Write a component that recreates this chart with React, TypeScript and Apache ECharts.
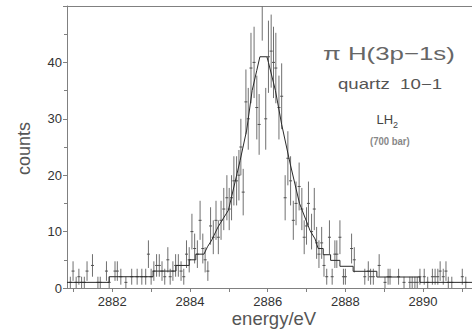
import React, { useEffect, useRef } from "react";
import * as echarts from "echarts";

// measured spectrum: bin energy (eV) and counts
const energies = [
  2880.92, 2880.99, 2881.07, 2881.14, 2881.21, 2881.28, 2881.35, 2881.42, 2881.49, 2881.56,
  2881.63, 2881.69, 2881.77, 2881.85, 2881.92, 2881.99, 2882.07, 2882.13, 2882.22, 2882.28,
  2882.35, 2882.43, 2882.5, 2882.57, 2882.64, 2882.7, 2882.76, 2882.86, 2882.93, 2883.0,
  2883.07, 2883.14, 2883.21, 2883.28, 2883.35, 2883.43, 2883.49, 2883.56, 2883.63, 2883.7,
  2883.77, 2883.84, 2883.91, 2883.98, 2884.05, 2884.12, 2884.19, 2884.26, 2884.33, 2884.39,
  2884.46, 2884.53, 2884.6, 2884.67, 2884.73, 2884.8, 2884.87, 2884.95, 2885.01, 2885.07,
  2885.13, 2885.2, 2885.26, 2885.31, 2885.37, 2885.44, 2885.5, 2885.57, 2885.65, 2885.72,
  2885.78, 2885.86, 2885.95, 2886.02, 2886.09, 2886.15, 2886.21, 2886.29, 2886.36, 2886.45,
  2886.52, 2886.59, 2886.66, 2886.73, 2886.81, 2886.88, 2886.94, 2887.0, 2887.05, 2887.13,
  2887.2, 2887.26, 2887.32, 2887.39, 2887.45, 2887.52, 2887.59, 2887.66, 2887.73, 2887.78,
  2887.86, 2887.95, 2888.0, 2888.08, 2888.16, 2888.23, 2888.33, 2888.4, 2888.46, 2888.5,
  2888.59, 2888.65, 2888.72, 2888.79, 2888.87, 2888.95, 2889.02, 2889.1, 2889.15, 2889.22,
  2889.3, 2889.37, 2889.44, 2889.51, 2889.58, 2889.66, 2889.72, 2889.79, 2889.85, 2889.92,
  2889.97, 2890.03, 2890.12, 2890.18, 2890.24, 2890.31, 2890.38, 2890.44, 2890.52, 2890.59,
  2890.65, 2890.74, 2890.8, 2890.87, 2890.94, 2891.01, 2891.1, 2891.17,
];
const counts = [
  1, 3, 1, 2, 1, 1, 3, 0, 4, 0,
  1, 1, 0, 3, 1, 0, 3, 3, 2, 0,
  1, 0, 2, 0, 2, 0, 2, 2, 6, 2,
  3, 4, 4, 3, 2, 5, 2, 3, 4, 4,
  3, 2, 6, 5, 10, 7, 6, 12, 7, 5,
  3, 11, 9, 12, 9, 12, 14, 16, 14, 16,
  19, 19, 20, 25, 17, 33, 30, 39, 40, 32,
  29, 51, 30, 41, 42, 40, 39, 32, 34, 16,
  23, 19, 12, 15, 18, 14, 9, 11, 15, 10,
  14, 8, 6, 8, 4, 2, 9, 2, 6, 6,
  9, 2, 2, 0, 7, 5, 0, 0, 0, 2,
  3, 2, 2, 0, 4, 0, 1, 2, 2, 0,
  0, 2, 0, 1, 0, 1, 1, 1, 1, 2,
  0, 2, 1, 0, 2, 2, 2, 3, 2, 3,
  1, 1, 0, 0, 0, 2, 1, 0,
];

// fitted line shape (energy, counts)
const fitEnergies = [
  2880.834, 2881.92, 2881.92, 2883.05, 2883.05, 2883.64, 2883.64, 2883.98, 2883.98, 2884.15,
  2884.15, 2884.36, 2884.45, 2884.56, 2884.72, 2884.99, 2885.29, 2885.46, 2885.6, 2885.72,
  2885.8, 2885.98, 2886.02, 2886.2, 2886.36, 2886.58, 2886.82, 2887.09, 2887.22, 2887.3,
  2887.43, 2887.43, 2887.62, 2887.62, 2887.86, 2887.86, 2888.2, 2888.2, 2888.81, 2888.81,
  2889.92, 2889.92, 2891.26,
];
const fitCounts = [
  1, 1, 2, 2, 3, 3, 4, 4, 5, 5,
  6, 6, 7.3, 8.5, 10.8, 13.8, 22.6, 28, 35, 38.6,
  41, 41, 40, 35, 29, 22, 15, 10.2, 8.7, 7,
  7, 5.9, 5.9, 4.9, 4.9, 3.85, 3.85, 2.96, 2.96, 1.95,
  1.95, 1, 1,
];

const xLabelValues = [2882, 2884, 2886, 2888, 2890];
const yLabelValues = [0, 10, 20, 30, 40];

const X_MIN = 2880.834;
const X_MAX = 2891.26;
const Y_MAX = 50;
const FONT = "'Liberation Sans', Arial, sans-serif";

export default function App() {
  const ref = useRef<HTMLDivElement>(null);

  useEffect(() => {
    if (!ref.current) return;
    const chart = echarts.init(ref.current, null, { renderer: "svg" });

    const points = energies.map((e, i) => [e, counts[i]]);
    const fit = fitEnergies.map((e, i) => [e, fitCounts[i]]);

    const option: any = {
      animation: false,
      grid: { left: 67, right: 0, top: 6, bottom: 45 },
      xAxis: [
        {
          type: "value",
          min: X_MIN,
          max: X_MAX,
          minInterval: 1,
          maxInterval: 1,
          axisLine: { lineStyle: { color: "#808080", width: 1 } },
          axisTick: { show: true, length: 4, lineStyle: { color: "#808080" } },
          splitLine: { show: false },
          axisLabel: {
            showMinLabel: false,
            showMaxLabel: false,
            color: "#333",
            fontSize: 13,
            fontFamily: FONT,
            margin: 7,
            formatter: (v: number) =>
              xLabelValues.some((t) => Math.abs(t - v) < 1e-6) ? String(Math.round(v)) : "",
          },
        },
        {
          type: "value",
          position: "top",
          min: X_MIN,
          max: X_MAX,
          axisLine: { show: true, onZero: false, lineStyle: { color: "#808080", width: 1 } },
          axisTick: { show: false },
          axisLabel: { show: false },
          splitLine: { show: false },
        },
      ],
      yAxis: {
        type: "value",
        min: 0,
        max: Y_MAX,
        interval: 10,
        axisLine: { show: true, lineStyle: { color: "#808080", width: 1 } },
        axisTick: { show: true, length: 4, lineStyle: { color: "#808080" } },
        minorTick: { show: true, splitNumber: 2, length: 3, lineStyle: { color: "#808080" } },
        splitLine: { show: false },
        axisLabel: {
          color: "#333",
          fontSize: 13,
          fontFamily: FONT,
          margin: 5,
          formatter: (v: number) =>
            yLabelValues.some((t) => Math.abs(t - v) < 1e-6) ? String(v) : "",
        },
      },
      series: [
        {
          type: "line",
          data: fit,
          showSymbol: false,
          clip: true,
          lineStyle: { color: "#2a2a2a", width: 1 },
          z: 3,
        },
        {
          type: "custom",
          data: points,
          clip: true,
          z: 2,
          renderItem: (params: any, api: any) => {
            const e = api.value(0);
            const c = api.value(1);
            const style = { stroke: "#707070", lineWidth: 1 };
            if (c <= 0) {
              const p = api.coord([e, 0]);
              return {
                type: "line",
                shape: { x1: p[0], y1: p[1], x2: p[0], y2: p[1] + 2 },
                style,
              };
            }
            const err = Math.sqrt(c);
            const top = api.coord([e, Math.min(c + err, Y_MAX)]);
            const bot = api.coord([e, Math.max(c - err, 0)]);
            const children: any[] = [
              {
                type: "line",
                shape: { x1: top[0], y1: top[1], x2: bot[0], y2: bot[1] },
                style,
              },
            ];
            if (c <= Y_MAX) {
              const mid = api.coord([e, c]);
              children.push({
                type: "line",
                shape: { x1: mid[0] - 1.5, y1: mid[1], x2: mid[0] + 1.5, y2: mid[1] },
                style: { stroke: "#505050", lineWidth: 1 },
              });
            }
            return { type: "group", children };
          },
        },
      ],
      graphic: [
        {
          type: "text",
          x: 24,
          y: 148.5,
          rotation: Math.PI / 2,
          style: {
            text: "counts",
            fill: "#555",
            font: `18px ${FONT}`,
            align: "center",
            verticalAlign: "middle",
          },
        },
        {
          type: "text",
          x: 274,
          y: 318.6,
          style: {
            text: "energy/eV",
            fill: "#555",
            font: `18.5px ${FONT}`,
            align: "center",
            verticalAlign: "middle",
          },
        },
        {
          type: "text",
          x: 323,
          y: 53.6,
          scaleX: 1.36,
          style: {
            text: "π H(3p−1s)",
            fill: "#666",
            font: `19px ${FONT}`,
            align: "left",
            verticalAlign: "middle",
          },
        },
        {
          type: "text",
          x: 338,
          y: 83.5,
          scaleX: 1.33,
          style: {
            text: "quartz  10−1",
            fill: "#555",
            font: `14px ${FONT}`,
            align: "left",
            verticalAlign: "middle",
          },
        },
        {
          type: "text",
          x: 376.5,
          y: 119.5,
          style: {
            text: "LH",
            fill: "#444",
            font: `13px ${FONT}`,
            align: "left",
            verticalAlign: "middle",
          },
        },
        {
          type: "text",
          x: 393,
          y: 125,
          style: {
            text: "2",
            fill: "#444",
            font: `9px ${FONT}`,
            align: "left",
            verticalAlign: "middle",
          },
        },
        {
          type: "text",
          x: 370,
          y: 140.5,
          scaleX: 0.83,
          style: {
            text: "(700 bar)",
            fill: "#888",
            font: `bold 11.5px ${FONT}`,
            align: "left",
            verticalAlign: "middle",
          },
        },
      ],
    };

    chart.setOption(option);
    return () => chart.dispose();
  }, []);

  return (
    <div
      ref={ref}
      style={{ position: "absolute", left: 0, top: 0, width: 472, height: 333 }}
    />
  );
}
